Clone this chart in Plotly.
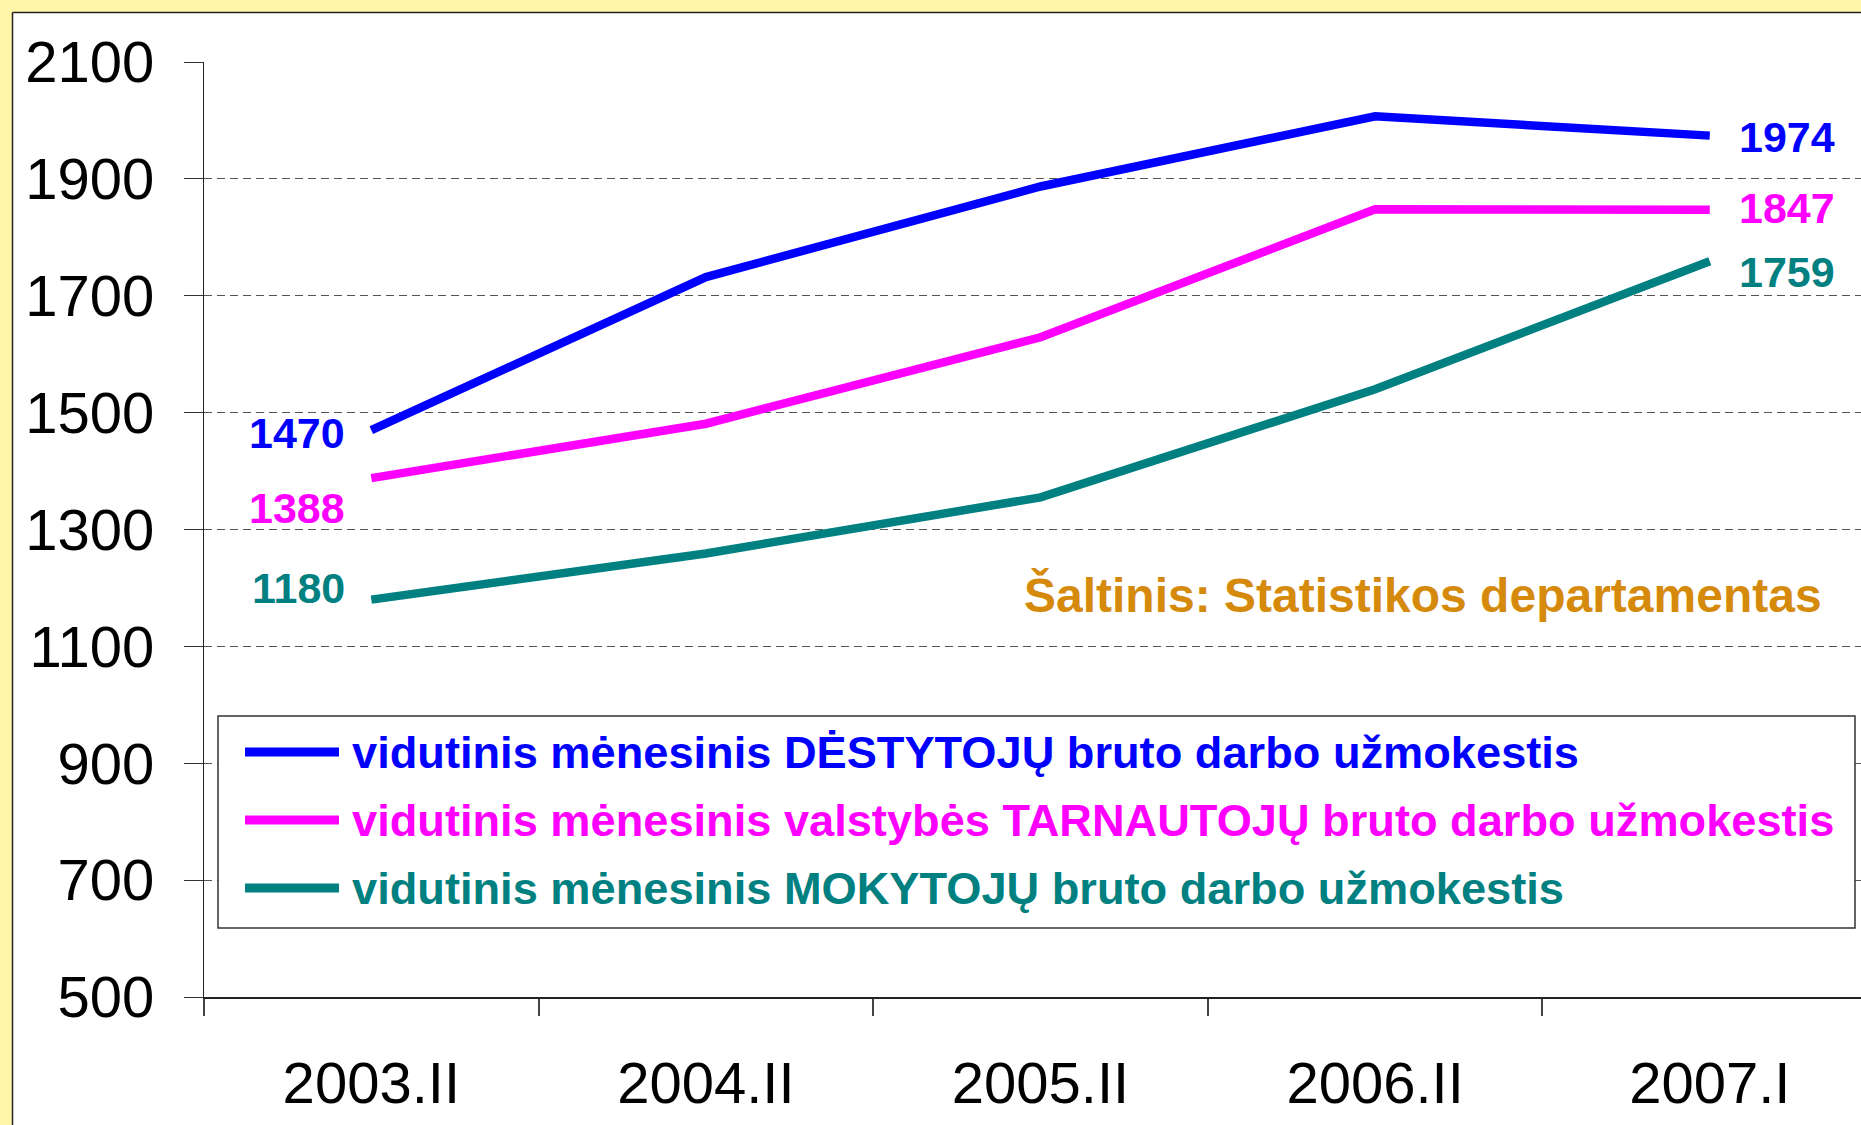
import plotly.graph_objects as go

categories = ["2003.II", "2004.II", "2005.II", "2006.II", "2007.I"]
destytoju = [1470, 1732, 1887, 2007, 1974]
tarnautoju = [1388, 1481, 1629, 1848, 1847]
mokytoju = [1180, 1259, 1355, 1540, 1759]
series_names = [
    "vidutinis mėnesinis DĖSTYTOJŲ bruto darbo užmokestis",
    "vidutinis mėnesinis valstybės TARNAUTOJŲ bruto darbo užmokestis",
    "vidutinis mėnesinis MOKYTOJŲ bruto darbo užmokestis",
]
y_ticks = [500, 700, 900, 1100, 1300, 1500, 1700, 1900, 2100]
source_text = "Šaltinis: Statistikos departamentas"

colors = ["#0000FF", "#FF00FF", "#008080"]
series = [destytoju, tarnautoju, mokytoju]

W, H = 1861, 1125
ML, MR, MT, MB = 204, 0, 62, 128
PW = W - ML - MR
PH = H - MT - MB


def px_x(px):
    return (px - ML) / PW


def px_y(py):
    return (H - MB - py) / PH


FONT = "Arial, 'Liberation Sans', sans-serif"

fig = go.Figure()
for name, vals, col in zip(series_names, series, colors):
    fig.add_trace(go.Scatter(
        x=categories, y=vals, mode="lines", name=name,
        line=dict(color=col, width=8.5), showlegend=False,
    ))

# value labels
left_shift = [-3, -30, 12]
right_shift = [-1, 2, -11]
annotations = []
for i, (vals, col) in enumerate(zip(series, colors)):
    annotations.append(dict(
        x=0, y=vals[0], xref="x", yref="y", text=str(vals[0]),
        showarrow=False, xanchor="right", yanchor="middle",
        xshift=-24, yshift=left_shift[i],
        font=dict(family=FONT, size=43, color=col, weight="bold"),
    ))
    annotations.append(dict(
        x=len(categories) - 1, y=vals[-1], xref="x", yref="y", text=str(vals[-1]),
        showarrow=False, xanchor="left", yanchor="middle",
        xshift=27, yshift=right_shift[i],
        font=dict(family=FONT, size=43, color=col, weight="bold"),
    ))

# source note
annotations.append(dict(
    x=px_x(1824), y=px_y(595), xref="paper", yref="paper", text=source_text,
    showarrow=False, xanchor="right", yanchor="middle",
    font=dict(family=FONT, size=48, color="#D68A0C", weight="bold"),
))

# manual legend
shapes = []
shapes.append(dict(
    type="rect", xref="paper", yref="paper",
    x0=px_x(218), x1=px_x(1855), y0=px_y(928), y1=px_y(716),
    line=dict(color="#333333", width=1.5), fillcolor="white", layer="above",
))
legend_rows = [752, 820, 888]
for name, col, ry in zip(series_names, colors, legend_rows):
    shapes.append(dict(
        type="line", xref="paper", yref="paper",
        x0=px_x(245), x1=px_x(339), y0=px_y(ry), y1=px_y(ry),
        line=dict(color=col, width=9), layer="above",
    ))
    annotations.append(dict(
        x=px_x(350), y=px_y(ry), xref="paper", yref="paper", text=name,
        showarrow=False, xanchor="left", yanchor="middle",
        font=dict(family=FONT, size=45.2, color=col, weight="bold"),
    ))

# yellow frame on left and top, with dark border line
YEL = "#FFF6AA"
shapes.append(dict(type="rect", xref="paper", yref="paper",
                   x0=px_x(0), x1=px_x(12), y0=px_y(H), y1=px_y(0),
                   fillcolor=YEL, line=dict(width=0), layer="above"))
shapes.append(dict(type="rect", xref="paper", yref="paper",
                   x0=px_x(0), x1=px_x(W), y0=px_y(12), y1=px_y(0),
                   fillcolor=YEL, line=dict(width=0), layer="above"))
shapes.append(dict(type="line", xref="paper", yref="paper",
                   x0=px_x(12.5), x1=px_x(12.5), y0=px_y(H), y1=px_y(12.5),
                   line=dict(color="#222222", width=1.5), layer="above"))
shapes.append(dict(type="line", xref="paper", yref="paper",
                   x0=px_x(12.5), x1=px_x(W), y0=px_y(12.5), y1=px_y(12.5),
                   line=dict(color="#222222", width=1.5), layer="above"))

fig.update_layout(
    width=W, height=H,
    margin=dict(l=ML, r=MR, t=MT, b=MB, pad=0),
    paper_bgcolor="white", plot_bgcolor="white",
    font=dict(family=FONT, color="black"),
    annotations=annotations, shapes=shapes,
    showlegend=False,
)
fig.update_xaxes(
    type="category", range=[-0.5, 4.452], tickson="boundaries",
    showgrid=False, showline=True, linecolor="#222222", linewidth=1.5,
    ticks="outside", ticklen=17, tickcolor="#444444", tickwidth=1.5,
    tickfont=dict(family=FONT, size=58, color="black"),
    ticklabelstandoff=35, zeroline=False,
)
fig.update_yaxes(
    range=[500, 2100], tickvals=y_ticks, ticktext=[str(v) for v in y_ticks],
    showgrid=True, gridcolor="#555555", gridwidth=1, griddash="8px,5px",
    showline=True, linecolor="#222222", linewidth=1.2,
    ticks="outside", ticklen=19, tickcolor="#333333", tickwidth=1,
    tickfont=dict(family=FONT, size=58, color="black"),
    ticklabelstandoff=18, zeroline=False,
)

fig.write_html(
    "out.html",
    config={"displayModeBar": False},
    post_script="document.body.style.margin='0';document.body.style.overflow='hidden';",
)
